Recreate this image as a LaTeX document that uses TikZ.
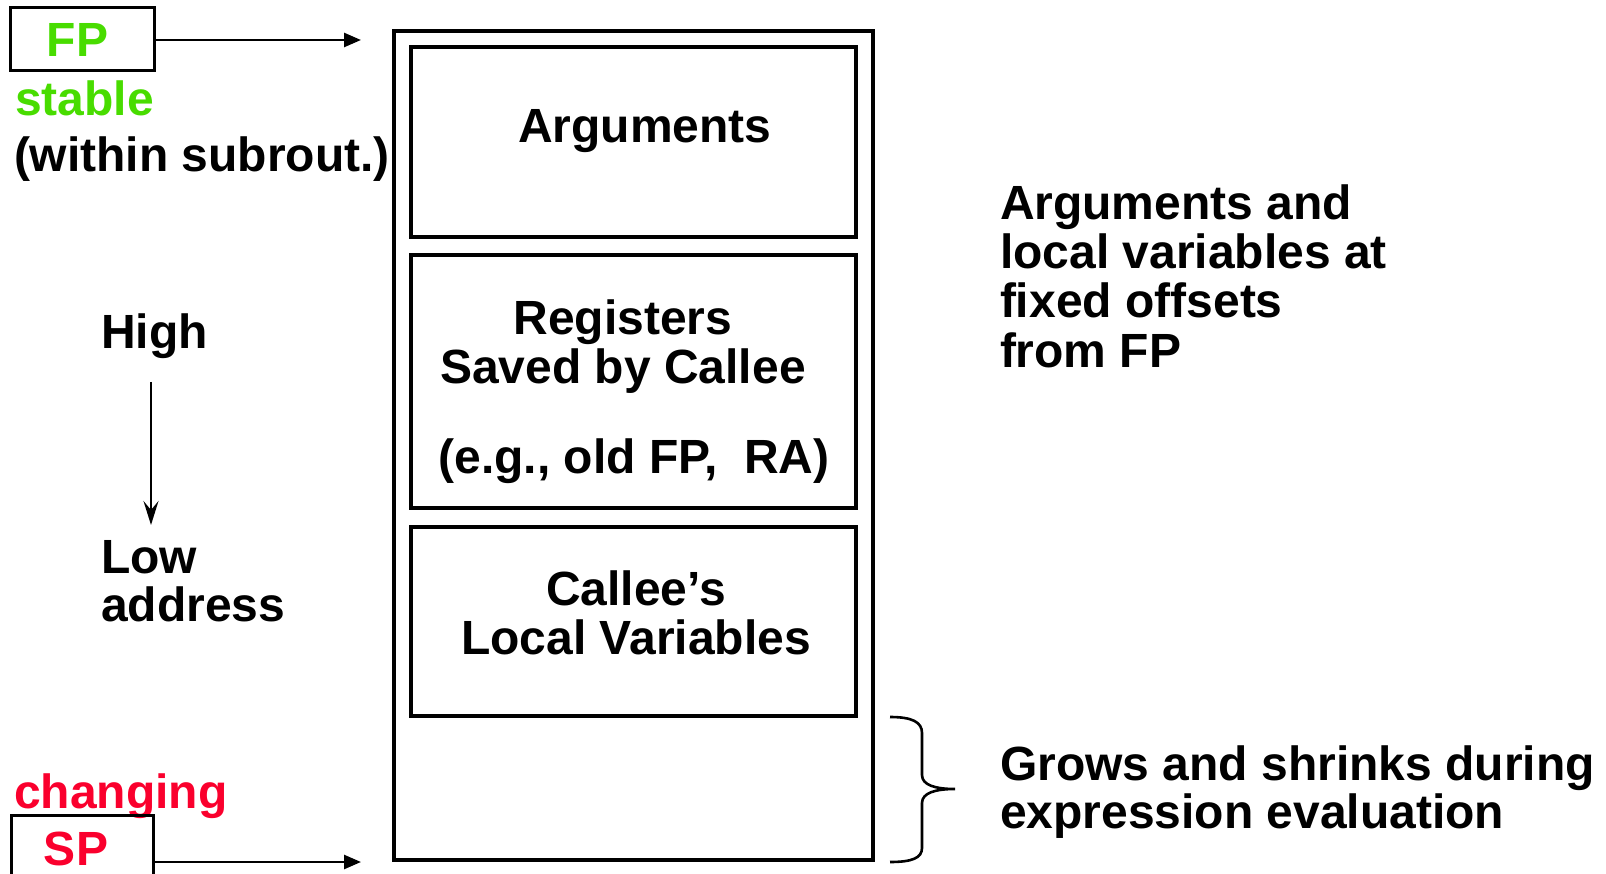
\documentclass[tikz,border=0pt]{standalone}
\usepackage{fontspec}
\setmainfont{Liberation Sans}
\usetikzlibrary{arrows.meta}
\definecolor{fpgreen}{RGB}{72,220,0}
\definecolor{spred}{RGB}{250,0,45}
\begin{document}
\begin{tikzpicture}[x=1pt,y=-1pt,
  every node/.style={font=\fontsize{48}{48}\selectfont\bfseries, inner sep=0pt, outer sep=0pt},
  framebox/.style={draw, line width=3.2pt},
  slotbox/.style={draw, line width=3.2pt},
  regbox/.style={draw, line width=3pt},
  ptr/.style={line width=2.6pt, -{Triangle[length=17pt,width=14pt]}},
  downdir/.style={line width=2.2pt, -{Stealth[length=24pt,width=15pt,inset=9pt]}},
  lbl/.style={anchor=base west, align=left},
  ctr/.style={anchor=base, align=center},
]
\useasboundingbox (0,0) rectangle (1606,874);

% stack frame and its three slots
\node[framebox, minimum width=479pt, minimum height=829pt] (frame) at (633.5,445.5) {};
\node[slotbox, minimum width=445pt, minimum height=190pt] (args) at (633.5,142) {};
\node[slotbox, minimum width=445pt, minimum height=253pt] (saved) at (633.5,381.5) {};
\node[slotbox, minimum width=445pt, minimum height=189pt] (locals) at (633.5,621.5) {};

% slot captions (multi-line nodes are placed by the baseline of their last line)
\node[ctr] (argstxt) at (645,143) {Arguments};
\node[ctr, font=\fontsize{48}{49}\selectfont\bfseries] (savedtxt) at (623,384) {Registers\\Saved by Callee};
\node[ctr] (egtxt) at (634,473) {(e.g., old FP,\ \ RA)};
\node[ctr, font=\fontsize{48}{49}\selectfont\bfseries] (localstxt) at (636,654) {Callee’s\\Local Variables};

% frame pointer
\node[regbox, minimum width=144pt, minimum height=63pt, text=fpgreen] (fp) at (82,39.5) {FP\kern9pt};
\coordinate (fptip) at (361,40);
\draw[ptr] (fp.east |- fptip) -- (fptip);
\node[lbl, text=fpgreen] (stable) at (15,116) {stable};
\node[lbl] (within) at (14,172) {(within subrout.)};

% address direction
\node[lbl] (high) at (101,349) {High};
\node[lbl] (low) at (101,621.5) {Low\\address};
\coordinate (dirtop) at (151,382);
\coordinate (dirtip) at (151,525);
\draw[downdir] (dirtop) -- (dirtip);

% stack pointer
\node[lbl, text=spred] (changing) at (14,808) {changing};
\node[regbox, anchor=north west, minimum width=142pt, minimum height=120pt] (spbox) at (11,815) {};
\node[ctr, text=spred] (sp) at (76,865) {SP};
\coordinate (sptip) at (361,862);
\draw[ptr] (spbox.east |- sptip) -- (sptip);

% notes on the right
\node[lbl, font=\fontsize{48}{49.3}\selectfont\bfseries] (fixed) at (1000,367)
  {Arguments and\\local variables at\\fixed offsets\\from FP};
\node[lbl] (grows) at (1000,828) {Grows and shrinks during\\expression evaluation};

% brace over the expression area
\draw[line width=2.6pt]
  (890,717) .. controls (912,717) and (922,722) .. (922,733) -- (922,775)
  .. controls (922,785) and (935,789) .. (955,789)
  .. controls (935,789) and (922,793) .. (922,803) -- (922,848)
  .. controls (922,858) and (912,862) .. (890,862);
\end{tikzpicture}
\end{document}
